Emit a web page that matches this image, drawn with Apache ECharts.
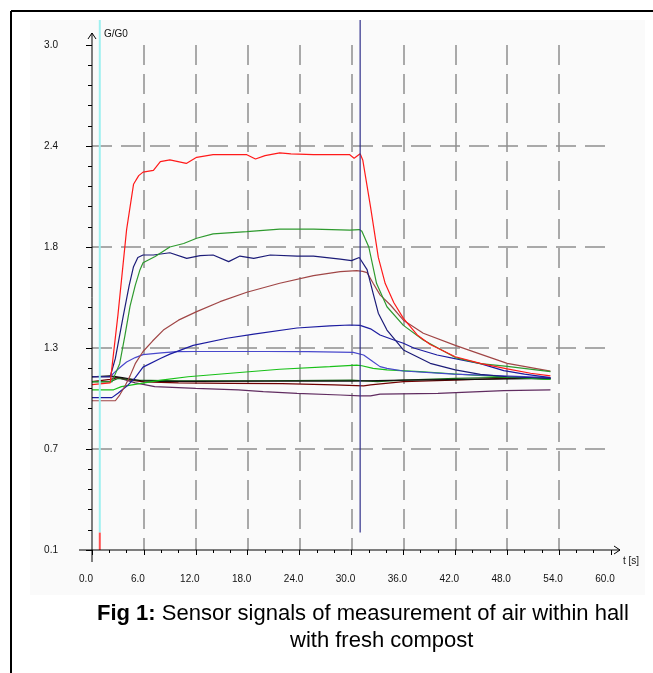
<!DOCTYPE html>
<html>
<head>
<meta charset="utf-8">
<script src="https://cdn.jsdelivr.net/npm/echarts@6/dist/echarts.min.js"></script>
<style>
  html, body { margin: 0; padding: 0; background: #fff; }
  #chart { width: 653px; height: 673px; }
</style>
</head>
<body>
<div id="chart"></div>
<script>
// time [s] / G/G0 readings for each sensor
const sensorRed = [[0,1.05],[2.1,1.06],[3.0,1.45],[4.0,1.94],[4.8,2.2],[5.4,2.25],[5.9,2.27],[7.1,2.28],[7.9,2.33],[9.0,2.34],[10.9,2.32],[12.1,2.355],[14,2.37],[16,2.37],[17.9,2.37],[18.9,2.345],[20,2.365],[21.7,2.38],[23,2.375],[25.6,2.37],[28,2.37],[29.8,2.37],[30.3,2.35],[31.0,2.375],[31.3,2.34],[32.2,2.07],[33.1,1.78],[33.9,1.63],[34.9,1.52],[36.0,1.43],[37.6,1.335],[39.1,1.28],[42,1.21],[45,1.17],[48,1.14],[50.7,1.115],[53,1.10]];
const sensorGreen = [[0,1.065],[2.3,1.065],[2.6,1.1],[3.2,1.17],[3.8,1.33],[4.4,1.5],[5.0,1.62],[5.55,1.71],[5.9,1.75],[7.3,1.785],[9.0,1.84],[10.6,1.86],[12.1,1.89],[14,1.915],[17.9,1.928],[21.7,1.943],[25.6,1.943],[29.8,1.937],[30.9,1.94],[31.2,1.93],[32,1.84],[32.9,1.63],[34.1,1.497],[36,1.39],[38.3,1.306],[42,1.205],[44.9,1.17],[48,1.155],[53,1.124]];
const sensorNavy = [[0,1.095],[2.1,1.095],[2.7,1.2],[3.6,1.44],[4.3,1.62],[4.8,1.727],[5.3,1.78],[5.9,1.794],[7.1,1.794],[9.0,1.807],[10.95,1.775],[12.5,1.79],[14,1.794],[15.8,1.756],[17.1,1.788],[18.7,1.775],[20.6,1.794],[23.7,1.788],[25.6,1.788],[28.7,1.77],[30,1.762],[30.9,1.78],[31.8,1.71],[32.5,1.574],[33.1,1.46],[34.1,1.363],[36,1.249],[39.1,1.172],[42,1.134],[44.9,1.109],[48,1.095],[53,1.086]];
const sensorBrown = [[0,0.957],[2.7,0.957],[3.2,0.99],[3.8,1.04],[4.4,1.1],[5.0,1.17],[5.9,1.24],[7,1.3],[8.25,1.363],[10,1.42],[12.1,1.469],[14.8,1.526],[17.9,1.58],[21.7,1.632],[25.6,1.676],[28.7,1.699],[30.6,1.704],[31.3,1.70],[31.8,1.693],[32.5,1.632],[33.3,1.565],[34.5,1.507],[36,1.42],[38.3,1.345],[42,1.275],[44.9,1.225],[48,1.172],[53,1.127]];
const sensorBlue = [[0,0.975],[2.3,0.975],[3.0,1.0],[4.0,1.04],[5.0,1.09],[5.9,1.15],[7.9,1.2],[9,1.225],[11.7,1.275],[15.6,1.316],[18.7,1.34],[23.7,1.375],[27.5,1.387],[29.8,1.392],[31,1.39],[32.2,1.37],[33.3,1.335],[34.9,1.306],[36,1.287],[37.2,1.26],[39.9,1.22],[41.8,1.2],[44.9,1.17],[47.6,1.13],[50,1.11],[53,1.09]];
const sensorLightBlue = [[0,1.095],[2.1,1.095],[2.6,1.12],[3.4,1.155],[4.0,1.18],[5.0,1.205],[5.9,1.222],[8,1.232],[9.8,1.239],[12,1.24],[20,1.24],[25,1.239],[30.2,1.235],[31.4,1.22],[32.5,1.181],[33.3,1.153],[34.1,1.143],[36,1.128],[41.8,1.11],[47.6,1.10],[53,1.09]];
const sensorLightGreen = [[0,1.02],[2.5,1.02],[3.4,1.038],[5.7,1.057],[8,1.075],[11.1,1.095],[16,1.115],[21.7,1.138],[27.5,1.153],[30.6,1.162],[31.2,1.158],[32.5,1.143],[34.1,1.134],[37.9,1.124],[43.7,1.105],[53,1.08]];
const sensorDarkGreen = [[0,1.067],[2.1,1.067],[3,1.085],[5,1.075],[10,1.072],[20,1.072],[30,1.075],[31,1.073],[33,1.067],[36,1.075],[42,1.085],[48,1.092],[53,1.08]];
const sensorMaroon = [[0,1.067],[2.1,1.08],[3,1.09],[4.5,1.075],[6,1.065],[10,1.06],[16,1.057],[22,1.055],[28,1.048],[31.4,1.042],[32.2,1.048],[36,1.067],[41.8,1.076],[47.6,1.086],[53,1.086]];
const sensorPurple = [[0,1.095],[2.1,1.095],[3,1.09],[5,1.06],[7.25,1.038],[12,1.028],[16.9,1.019],[19.8,1.01],[23.7,1.0],[28.7,0.99],[31,0.985],[32.2,0.985],[33.3,0.995],[40,1.0],[47.6,1.015],[53,1.02]];
const sensorBlack = [[0,1.095],[2.1,1.1],[3.5,1.09],[5.7,1.072],[8,1.068],[12,1.068],[20,1.07],[30,1.07],[36,1.075],[44,1.08],[53,1.085]];

// cursor lines: gas on (cyan) and gas off (navy), in seconds
const gasOnTime = 0.9;
const gasOffTime = 31.0;

const chart = echarts.init(document.getElementById('chart'));
const font = 'Liberation Sans, Arial, sans-serif';

function sensor(data, color) {
  return {
    type: 'line',
    data: data,
    showSymbol: false,
    symbol: 'none',
    silent: true,
    lineStyle: { color: color, width: 1.2 },
    animation: false
  };
}

const gridDash = { type: [20, 9], color: '#8e8e8e', width: 1.5 };

chart.setOption({
  animation: false,
  backgroundColor: '#fff',
  title: [
    {
      left: 92, top: 598,
      text: '{b|Fig 1:} Sensor signals of measurement of air within hall',
      textStyle: {
        fontSize: 22, fontWeight: 'normal', color: '#000', fontFamily: font,
        rich: { b: { fontSize: 22, fontWeight: 'bold', color: '#000', fontFamily: font } }
      }
    },
    {
      left: 285, top: 625,
      text: 'with fresh compost',
      textStyle: { fontSize: 22, fontWeight: 'normal', color: '#000', fontFamily: font }
    }
  ],
  grid: { left: 92, right: 42, top: 45, bottom: 123 },
  xAxis: {
    type: 'value', min: 0, max: 60, interval: 6,
    axisLine: { show: false },
    axisTick: { show: true, length: 5, lineStyle: { color: '#000' } },
    minorTick: { show: true, splitNumber: 3, length: 3, lineStyle: { color: '#000' } },
    axisLabel: {
      margin: 24, fontSize: 10, color: '#111', fontFamily: font,
      padding: [0, 12, 0, 0],
      formatter: v => v.toFixed(1)
    },
    splitLine: { show: true, showMinLine: false, showMaxLine: false, lineStyle: gridDash }
  },
  yAxis: {
    type: 'value', min: 0.1, max: 3.0, interval: 0.58,
    axisLine: { show: false },
    axisTick: { show: true, length: 6, lineStyle: { color: '#000' } },
    minorTick: { show: true, splitNumber: 5, length: 4, lineStyle: { color: '#000' } },
    axisLabel: {
      margin: 34, fontSize: 10, color: '#111', fontFamily: font,
      formatter: v => v.toFixed(1)
    },
    splitLine: { show: true, showMinLine: false, showMaxLine: false, lineStyle: gridDash }
  },
  series: [
    sensor(sensorPurple, '#602c60'),
    sensor(sensorMaroon, '#700000'),
    sensor(sensorDarkGreen, '#1a6a1a'),
    sensor(sensorBlack, '#101010'),
    sensor(sensorLightGreen, '#18c018'),
    sensor(sensorLightBlue, '#4848cc'),
    sensor(sensorBlue, '#1c1ca0'),
    sensor(sensorBrown, '#a04646'),
    sensor(sensorNavy, '#1c1c78'),
    sensor(sensorGreen, '#2e9a2e'),
    sensor(sensorRed, '#ff1a1a')
  ]
});

// axes with arrows, cursors, frame: placed from the chart's own scales
const origin = chart.convertToPixel({ gridIndex: 0 }, [0, 0.1]);
const topRight = chart.convertToPixel({ gridIndex: 0 }, [60, 3.0]);
const cursorBottom = chart.convertToPixel({ gridIndex: 0 }, [0, 0.2])[1];
const onX = chart.convertToPixel({ gridIndex: 0 }, [gasOnTime, 0.1])[0];
const offX = chart.convertToPixel({ gridIndex: 0 }, [gasOffTime, 0.1])[0];
const ox = origin[0], oy = origin[1];
const yTop = topRight[1] - 12;
const xEnd = topRight[0] + 9;
const cursorTop = 20;

chart.setOption({
  graphic: [
    { type: 'rect', z: -10, shape: { x: 30, y: 20, width: 615, height: 575 }, style: { fill: '#fafafa' } },
    { type: 'line', z: 100, shape: { x1: 11, y1: 11, x2: 653, y2: 11 }, style: { stroke: '#000', lineWidth: 2 } },
    { type: 'line', z: 100, shape: { x1: 11, y1: 11, x2: 11, y2: 673 }, style: { stroke: '#000', lineWidth: 2 } },
    // cursors
    { type: 'line', z: 50, shape: { x1: onX, y1: cursorTop, x2: onX, y2: cursorBottom }, style: { stroke: '#9ef0f0', lineWidth: 2 } },
    { type: 'line', z: 50, shape: { x1: onX, y1: cursorBottom, x2: onX, y2: oy }, style: { stroke: '#ff5050', lineWidth: 2 } },
    { type: 'line', z: 50, shape: { x1: offX, y1: cursorTop, x2: offX, y2: cursorBottom }, style: { stroke: '#30308a', lineWidth: 1.2 } },
    // y axis
    { type: 'line', z: 60, shape: { x1: ox, y1: oy + 12, x2: ox, y2: yTop }, style: { stroke: '#000', lineWidth: 1 } },
    { type: 'polyline', z: 60, shape: { points: [[ox - 4, yTop + 6], [ox, yTop], [ox + 4, yTop + 6]] }, style: { stroke: '#000', fill: null, lineWidth: 1 } },
    { type: 'text', z: 60, x: ox + 12, y: yTop - 4, style: { text: 'G/G0', fontSize: 10, fontFamily: font, fill: '#111' } },
    // x axis
    { type: 'line', z: 60, shape: { x1: ox - 13, y1: oy, x2: xEnd, y2: oy }, style: { stroke: '#000', lineWidth: 1 } },
    { type: 'polyline', z: 60, shape: { points: [[xEnd - 6, oy - 4], [xEnd, oy], [xEnd - 6, oy + 4]] }, style: { stroke: '#000', fill: null, lineWidth: 1 } },
    { type: 'text', z: 60, x: topRight[0] + 12, y: oy + 6, style: { text: 't [s]', fontSize: 10, fontFamily: font, fill: '#111' } }
  ]
});
</script>
</body>
</html>
